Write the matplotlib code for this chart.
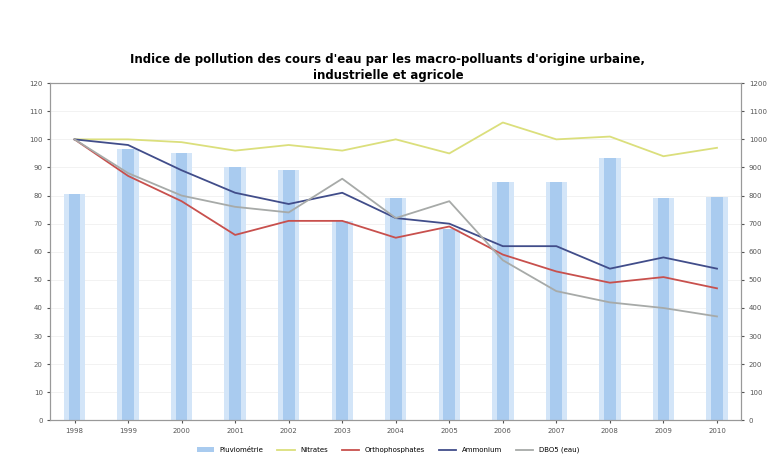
import matplotlib.pyplot as plt
import numpy as np

years = ['1998', '1999', '2000', '2001', '2002', '2003', '2004',
         '2005', '2006', '2007', '2008', '2009', '2010']
pluvio = [805, 965, 950, 900, 890, 710, 790, 680, 850, 850, 935, 790, 795]  # mm, right axis
nitrates = [100, 100, 99, 96, 98, 96, 100, 95, 106, 100, 101, 94, 97]
orthophos = [100, 87, 78, 66, 71, 71, 65, 69, 59, 53, 49, 51, 47]
ammonium = [100, 98, 89, 81, 77, 81, 72, 70, 62, 62, 54, 58, 54]
dbo5 = [100, 88, 80, 76, 74, 86, 72, 78, 57, 46, 42, 40, 37]

fig, ax = plt.subplots(figsize=(7.76, 4.62), dpi=100)
ax2 = ax.twinx()
x = np.arange(len(years))

# bars behind the lines, two layers to fake the gradient fill
ax.set_zorder(ax2.get_zorder() + 1)
ax.patch.set_visible(False)
ax2.set_axisbelow(True)
ax2.grid(axis='y', color='#f0f0f0', lw=0.6)
ax2.bar(x, pluvio, width=0.4, color='#d3e5f8', linewidth=0)
ax2.bar(x, pluvio, width=0.22, color='#a9cbef', linewidth=0, label='Pluviométrie')

ax.plot(x, nitrates, color='#dbdf7c', lw=1.3, label='Nitrates')
ax.plot(x, orthophos, color='#c8504d', lw=1.3, label='Orthophosphates')
ax.plot(x, ammonium, color='#414d8a', lw=1.3, label='Ammonium')
ax.plot(x, dbo5, color='#a7aaa8', lw=1.3, label='DBO5 (eau)')

ax.set_ylim(0, 120)
ax.set_yticks(range(0, 121, 10))
ax2.set_ylim(0, 1200)
ax2.set_yticks(range(0, 1201, 100))
ax.set_xlim(-0.45, len(years) - 0.55)
ax.set_xticks(x)
ax.set_xticklabels(years)
for a in (ax, ax2):
    a.tick_params(labelsize=5, length=2, colors='#555555')
    for s in a.spines.values():
        s.set_color('#999999')

h1, l1 = ax2.get_legend_handles_labels()
h2, l2 = ax.get_legend_handles_labels()
fig.legend(h1 + h2, l1 + l2, loc='lower center', ncol=5, fontsize=5,
           frameon=False, bbox_to_anchor=(0.5, 0.005), handlelength=2.5)

fig.suptitle("Indice de pollution des cours d'eau par les macro-polluants d'origine urbaine,\n"
             "industrielle et agricole", fontsize=8.5, fontweight='bold', y=0.885,
             linespacing=1.3)
fig.subplots_adjust(left=0.065, right=0.955, top=0.82, bottom=0.09)
plt.savefig('out.png', dpi=100)
plt.close()
